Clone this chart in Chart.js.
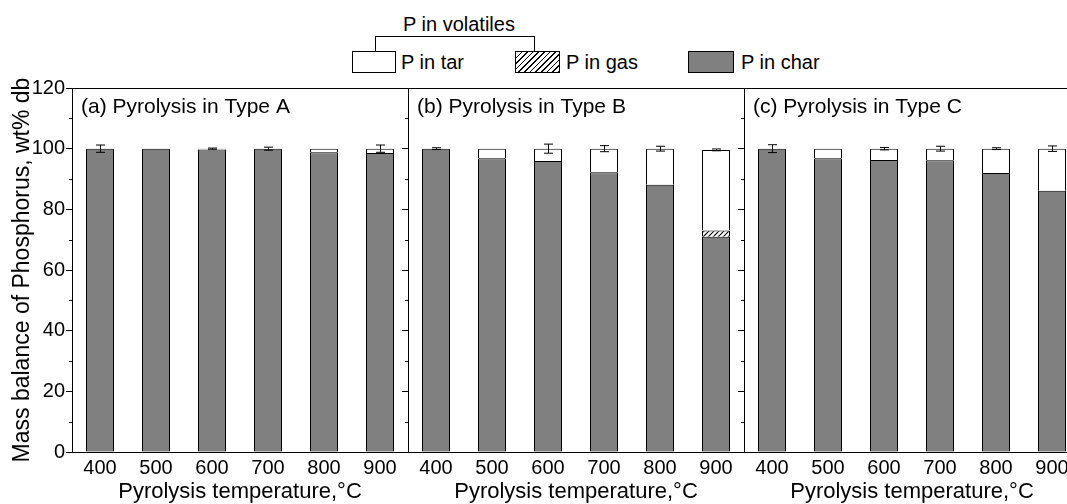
<!DOCTYPE html>
<html>
<head>
<meta charset="utf-8">
<script src="https://cdn.jsdelivr.net/npm/chart.js@4/dist/chart.umd.min.js"></script>
<style>
html, body { margin: 0; padding: 0; overflow: hidden; background: #fff; }
body { width: 1067px; height: 504px; position: relative; font-family: "Liberation Sans", Arial, sans-serif; }
.panel { position: absolute; top: 0; }
.txt { position: absolute; font-size: 20px; line-height: 22px; color: #000; white-space: nowrap; }
.box { position: absolute; top: 51px; height: 22px; box-sizing: border-box; border: 1px solid #000; }
.line { position: absolute; background: #000; }
</style>
</head>
<body>
<!-- legend -->
<div class="txt" style="left:403px; top:13px;">P in volatiles</div>
<div class="line" style="left:375px; top:36px; width:160px; height:1px;"></div>
<div class="line" style="left:375px; top:36px; width:1px; height:15px;"></div>
<div class="line" style="left:534px; top:36px; width:1px; height:15px;"></div>
<div class="box" style="left:352px; width:44px; background:#fff;"></div>
<div class="txt" style="left:401px; top:51px;">P in tar</div>
<div class="box" style="left:515px; width:45px; background:repeating-linear-gradient(-45deg, #000 0 1px, #fff 1px 4px);"></div>
<div class="txt" style="left:566px; top:51px;">P in gas</div>
<div class="box" style="left:688px; width:46px; background:#808080;"></div>
<div class="txt" style="left:741px; top:51px;">P in char</div>

<canvas id="panelA" class="panel" style="left:0px;" width="410" height="504"></canvas>
<canvas id="panelB" class="panel" style="left:400px;" width="346" height="504"></canvas>
<canvas id="panelC" class="panel" style="left:736px;" width="346" height="504"></canvas>

<script>
const temperatures = ['400', '500', '600', '700', '800', '900'];

// (a) Type A
const charA = [100, 100, 99.7, 100, 98.8, 98.6];
const gasA  = [0, 0, 0, 0, 0, 0];
const tarA  = [0, 0, 0.3, 0, 1.2, 1.4];
const errA  = [1.2, 0, 0.2, 0.5, 0, 1.2];

// (b) Type B
const charB = [100, 96.8, 95.9, 92.2, 88.1, 71.0];
const gasB  = [0, 0, 0, 0, 0, 2.0];
const tarB  = [0, 3.2, 4.1, 7.8, 11.9, 26.6];
const errB  = [0.3, 0, 1.5, 1.0, 0.8, 0.3];

// (c) Type C
const charC = [100, 96.8, 96.3, 96.2, 92.0, 86.1];
const gasC  = [0, 0, 0, 0, 0, 0];
const tarC  = [0, 3.2, 3.7, 3.8, 8.0, 13.9];
const errC  = [1.3, 0, 0.4, 0.8, 0.3, 0.9];

Chart.defaults.font.family = '"Liberation Sans", Arial, sans-serif';
Chart.defaults.color = '#000';

// diagonal hatch used for the gas fraction
function hatchPattern() {
    const c = document.createElement('canvas');
    c.width = 5; c.height = 5;
    const g = c.getContext('2d');
    g.fillStyle = '#fff';
    g.fillRect(0, 0, 5, 5);
    g.strokeStyle = '#000';
    g.lineWidth = 1.1;
    g.beginPath();
    g.moveTo(-1, 6); g.lineTo(6, -1);
    g.moveTo(-1, 1); g.lineTo(1, -1);
    g.moveTo(4, 6); g.lineTo(6, 4);
    g.stroke();
    return g.createPattern(c, 'repeat');
}

// frame, minor ticks and the panel caption
const panelFrame = {
    id: 'panelFrame',
    afterDraw(chart, args, opts) {
        const { ctx, chartArea: a, scales: { y } } = chart;
        ctx.save();
        ctx.strokeStyle = '#000';
        ctx.lineWidth = 1;
        ctx.strokeRect(Math.round(a.left) + 0.5, Math.round(a.top) + 0.5,
            Math.round(a.right - a.left), Math.round(a.bottom - a.top));
        ctx.beginPath();
        for (let v = 10; v < 120; v += 20) {
            const py = Math.round(y.getPixelForValue(v)) + 0.5;
            ctx.moveTo(a.left - 3, py);
            ctx.lineTo(a.left, py);
        }
        ctx.stroke();
        ctx.fillStyle = '#000';
        ctx.font = '21px "Liberation Sans", Arial, sans-serif';
        ctx.textBaseline = 'alphabetic';
        ctx.fillText(opts.label, a.left + 9, 113);
        ctx.restore();
    }
};

// error bars on top of each stack
const errorBars = {
    id: 'errorBars',
    afterDatasetsDraw(chart, args, opts) {
        const { ctx, scales: { y } } = chart;
        const meta = chart.getDatasetMeta(0);
        ctx.save();
        ctx.strokeStyle = '#000';
        ctx.lineWidth = 1;
        opts.errors.forEach((e, i) => {
            if (!e) return;
            let total = 0;
            chart.data.datasets.forEach(ds => { total += ds.data[i] || 0; });
            const x = Math.round(meta.data[i].x) + 0.5;
            const top = y.getPixelForValue(total + e);
            const bot = y.getPixelForValue(total - e);
            ctx.beginPath();
            ctx.moveTo(x, top); ctx.lineTo(x, bot);
            ctx.moveTo(x - 4.5, top); ctx.lineTo(x + 4.5, top);
            ctx.moveTo(x - 4.5, bot); ctx.lineTo(x + 4.5, bot);
            ctx.stroke();
        });
        ctx.restore();
    }
};

function makePanel(id, label, charVals, gasVals, tarVals, errVals, first) {
    const bar = (name, vals, fill, skip) => ({
        label: name,
        data: vals.map(v => v || null),
        backgroundColor: fill,
        borderColor: '#000',
        borderWidth: 1,
        borderSkipped: skip
    });
    return new Chart(document.getElementById(id), {
        type: 'bar',
        data: {
            labels: temperatures,
            datasets: [
                bar('P in char', charVals, '#808080', false),
                bar('P in gas', gasVals, hatchPattern(), 'start'),
                bar('P in tar', tarVals, '#fff', 'start')
            ]
        },
        options: {
            responsive: false,
            animation: false,
            layout: { padding: { top: 88, right: 2, left: 0, bottom: 0 } },
            datasets: { bar: { barPercentage: 0.5, categoryPercentage: 1 } },
            plugins: {
                legend: { display: false },
                tooltip: { enabled: false },
                panelFrame: { label: label },
                errorBars: { errors: errVals }
            },
            scales: {
                x: {
                    stacked: true,
                    offset: true,
                    grid: { display: false, drawTicks: false },
                    border: { display: false },
                    ticks: { font: { size: 20 }, padding: 4, maxRotation: 0 },
                    title: {
                        display: true,
                        text: 'Pyrolysis temperature,°C',
                        font: { size: 22, lineHeight: 1.1 },
                        padding: { top: 0, bottom: 0 }
                    },
                    afterFit: s => { s.height = 52; }
                },
                y: {
                    stacked: true,
                    min: 0,
                    max: 120,
                    ticks: { stepSize: 20, display: first, font: { size: 20 }, padding: 1 },
                    grid: { drawOnChartArea: false, tickLength: 6, color: '#000' },
                    border: { color: '#000' },
                    title: {
                        display: first,
                        text: 'Mass balance of Phosphorus, wt% db',
                        font: { size: 23 },
                        padding: { top: 9, bottom: 0 }
                    },
                    afterFit: s => { s.width = first ? 72 : 8; }
                }
            }
        },
        plugins: [panelFrame, errorBars]
    });
}

makePanel('panelA', '(a) Pyrolysis in Type A', charA, gasA, tarA, errA, true);
makePanel('panelB', '(b) Pyrolysis in Type B', charB, gasB, tarB, errB, false);
makePanel('panelC', '(c) Pyrolysis in Type C', charC, gasC, tarC, errC, false);
</script>
</body>
</html>
